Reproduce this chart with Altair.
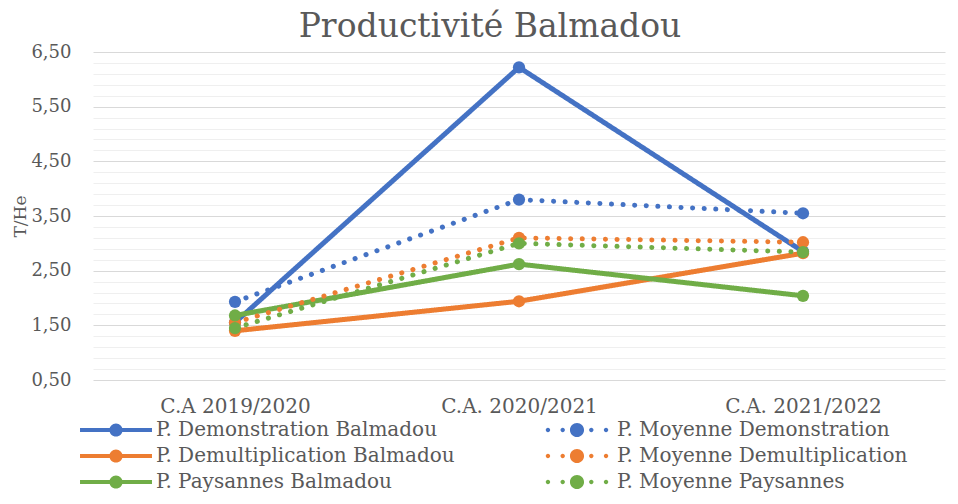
import altair as alt
import pandas as pd

categories = ["C.A 2019/2020", "C.A. 2020/2021", "C.A. 2021/2022"]
series_names = [
    "P. Demonstration Balmadou",
    "P. Demultiplication Balmadou",
    "P. Paysannes Balmadou",
    "P. Moyenne Demonstration",
    "P. Moyenne Demultiplication",
    "P. Moyenne Paysannes",
]
demo_bal = [1.55, 6.22, 2.85]
demult_bal = [1.40, 1.94, 2.82]
pays_bal = [1.68, 2.62, 2.04]
moy_demo = [1.93, 3.80, 3.55]
moy_demult = [1.55, 3.10, 3.02]
moy_pays = [1.45, 3.00, 2.84]

BLUE, ORANGE, GREEN = "#4472C4", "#ED7D31", "#70AD47"
colors = [BLUE, ORANGE, GREEN, BLUE, ORANGE, GREEN]
dashes = [[1, 0], [1, 0], [1, 0], [0.1, 11.5], [0.1, 11.5], [0.1, 11.5]]
sizes = [150, 150, 150, 210, 210, 210]
draw_order = [0, 2, 4, 1, 3, 5]  # Excel series order

values = [demo_bal, demult_bal, pays_bal, moy_demo, moy_demult, moy_pays]
rows = []
for i, (name, vals) in enumerate(zip(series_names, values)):
    for c, v in zip(categories, vals):
        rows.append({"series": name, "cat": c, "value": v, "order": draw_order[i],
                     "idx": i, "col": colors[i]})
df = pd.DataFrame(rows)

FONT = "DejaVu Serif"
GREY = "#595959"

# legend symbol paths (unit = 11 px, since symbolSize = 22^2)
def circ(cx, r):
    return f"M{cx - r},0 A{r},{r} 0 1,1 {cx + r},0 A{r},{r} 0 1,1 {cx - r},0 Z "

solid_path = "M-3.27,-0.18 L3.27,-0.18 L3.27,0.18 L-3.27,0.18 Z " + circ(0, 0.6)
dotted_path = (circ(-2.64, 0.2) + circ(-1.3, 0.2) + circ(0, 0.64)
               + circ(1.3, 0.2) + circ(2.64, 0.2))
shapes = [solid_path, solid_path, solid_path, dotted_path, dotted_path, dotted_path]

tick_vals = [round(0.5 + 0.2 * k, 2) for k in range(31)]

x_enc = alt.X(
    "cat:N",
    sort=categories,
    scale=alt.Scale(domain=categories),
    axis=alt.Axis(
        title=None, labelAngle=0, domain=False, ticks=False, grid=False,
        labelFont=FONT, labelFontSize=20, labelColor=GREY, labelPadding=16,
    ),
)
y_enc = alt.Y(
    "value:Q",
    scale=alt.Scale(domain=[0.5, 6.5], nice=False, zero=False),
    axis=alt.Axis(
        title="T/He", values=tick_vals, domain=False, ticks=False,
        labelExpr="round(datum.value*10) % 10 == 5 ? replace(format(datum.value, '.2f'), '.', ',') : ''",
        labelFont=FONT, labelFontSize=18, labelColor=GREY, labelPadding=22,
        gridColor={"condition": {"test": "round(datum.value*10) % 10 == 5", "value": "#d9d9d9"}, "value": "#efefef"},
        gridWidth=1,
        titleFont=FONT, titleFontSize=17, titleFontWeight="normal", titleColor=GREY,
        titleX=-73, titleY=164, titleBaseline="middle", titleAngle=-90, titleAlign="center",
    ),
)

legend = alt.Legend(
    title=None, orient="none", legendX=-13, legendY=367, columns=2,
    symbolSize=484, symbolOpacity=1, symbolStrokeWidth=0, symbolOffset=25,
    labelFont=FONT, labelFontSize=20, labelColor=GREY, labelOffset=29,
    columnPadding=86, rowPadding=5, padding=0, labelLimit=500,
)

lines = alt.Chart(df).mark_line(strokeCap="round", strokeJoin="round", strokeWidth=5).encode(
    x=x_enc, y=y_enc,
    color=alt.Color("col:N", scale=None),
    strokeDash=alt.StrokeDash("series:N", scale=alt.Scale(domain=series_names, range=dashes), legend=None),
    detail="series:N",
    order="order:Q",
)
points = alt.Chart(df).mark_circle(opacity=1).encode(
    x=x_enc, y=y_enc,
    color=alt.Color("col:N", scale=None),
    size=alt.Size("idx:O", scale=alt.Scale(domain=list(range(6)), range=sizes), legend=None),
    order="order:Q",
)
legend_layer = alt.Chart(df).transform_filter("false").mark_point(filled=True).encode(
    x=x_enc, y=y_enc,
    color=alt.Color("series:N", scale=alt.Scale(domain=series_names, range=colors), legend=legend),
    shape=alt.Shape("series:N", scale=alt.Scale(domain=series_names, range=shapes), legend=legend),
)

chart = alt.layer(lines, points, legend_layer).properties(
    width=852, height=328,
    autosize=alt.AutoSizeParams(type="none"),
    padding={"left": 85, "top": 44, "right": 5, "bottom": 116},
    title=alt.TitleParams(
        "Productivité Balmadou", font=FONT, fontSize=33, fontWeight="normal",
        color=GREY, anchor="middle", dx=-29, offset=-1,
    ),
).configure_view(stroke=None)

chart.save("out.html", embed_options={"renderer": "svg", "actions": False})
